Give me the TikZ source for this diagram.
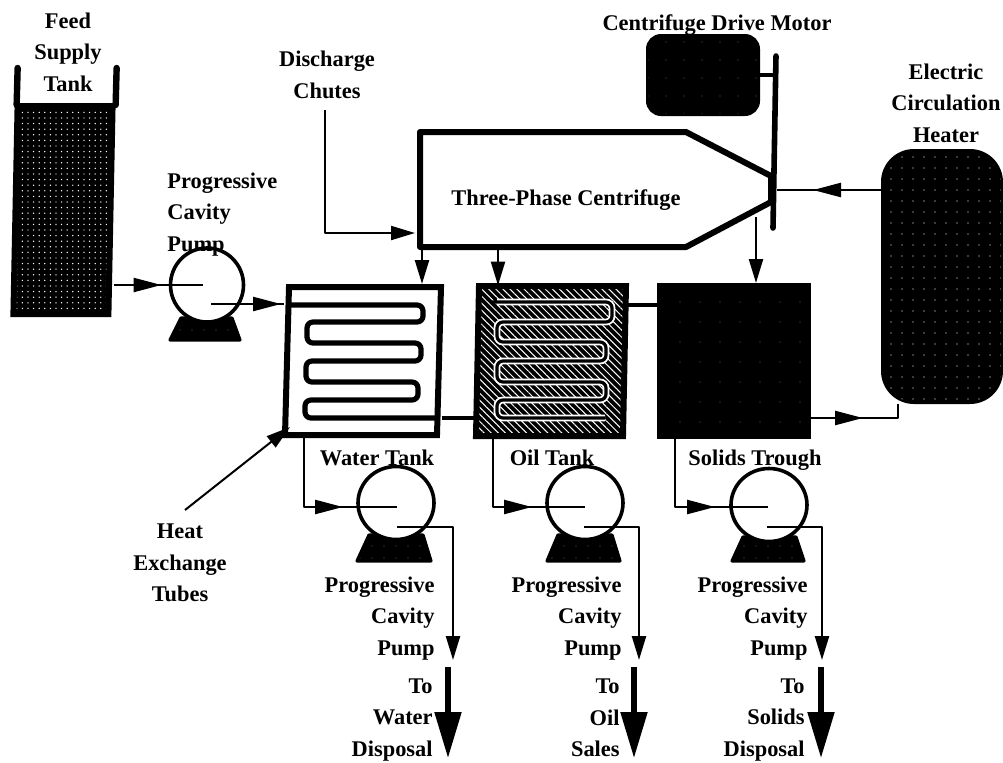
\documentclass[tikz,border=0pt]{standalone}
\usepackage{fontspec}
\setmainfont{Liberation Serif}
\usetikzlibrary{arrows.meta,patterns,patterns.meta,decorations.markings,shapes.geometric,calc}
\tikzset{
  lbl/.style={inner sep=0pt,font=\bfseries\fontsize{11.2}{15.7}\selectfont,text=black},
  pipe/.style={draw=black,line width=1.2pt,line join=round},
  midarrow/.style={postaction={decorate,decoration={markings,mark=at position #1 with {\arrow{Triangle[length=14pt,width=7pt]}}}}},
  endarrow/.style={-{Triangle[length=12pt,width=7pt]}},
  bigarrow/.style={line width=2.6pt,-{Triangle[length=23pt,width=13pt]},shorten >=0pt},
  tankbox/.style={rectangle,draw=black,line width=3pt,inner sep=0pt},
  whitetank/.style={tankbox,fill=white},
  speck/.style 2 args={preaction={fill=black},pattern={Dots[distance=#1,radius=#2]},pattern color=white},
  softbox/.style={rectangle,draw=black,line width=1pt,inner sep=0pt,rounded corners=#1},
  pumpbody/.style={ellipse,draw=black,line width=1.8pt,fill=white,inner sep=0pt},
  pumpbase/.style={speck={6pt}{0.16pt},draw=black,line width=1.6pt,line join=round},
  coilline/.style={draw=black,line width=2.6pt,rounded corners=3pt},
}
\begin{document}
\begin{tikzpicture}[x=0.5pt,y=-0.5pt]
\useasboundingbox (0,0) rectangle (1003,762);
% ---- bases of pumps
\path[pumpbase] (181,318) -- (232,318) -- (240,340) -- (170,340) -- cycle;
\path[pumpbase] (369,535) -- (423,535) -- (431,561) -- (357,561) -- cycle;
\path[pumpbase] (558,535) -- (612,535) -- (620,561) -- (547,561) -- cycle;
\path[pumpbase] (743,537) -- (796,537) -- (804,561) -- (732,561) -- cycle;
% ---- vessels
\node[tankbox,speck={2.8pt}{0.36pt},minimum width=47.5pt,minimum height=104pt,xslant=0.02,transform shape] (feed) at (63,210) {};
\coordinate (wallL) at ($(feed.north west)+(2,2)$);
\coordinate (wallR) at ($(feed.north east)+(0,2)$);
\draw[line width=3.2pt,line cap=round] (wallL) -- ++(1,-37);
\draw[line width=3.2pt,line cap=round] (wallR) -- ++(1,-37);
\node[whitetank,minimum width=76pt,minimum height=74pt,xslant=0.027,transform shape] (water) at (363,361) {};
\node[tankbox,preaction={fill=black},pattern={Lines[angle=-45,distance=2.5pt,line width=.5pt]},pattern color=white,minimum width=73.5pt,minimum height=75pt,xslant=0.02,transform shape] (oil) at (551,361) {};
\node[tankbox,speck={10pt}{0.18pt},minimum width=74pt,minimum height=75pt] (solids) at (734,361) {};
\node[softbox=16pt,speck={5.5pt}{0.28pt},minimum width=60pt,minimum height=126.5pt] (heater) at (942,276.5) {};
\node[softbox=7pt,speck={9pt}{0.18pt},minimum width=56pt,minimum height=40pt] (motor) at (703,75) {};
% ---- heat exchange coils
\draw[coilline] (288,305) -- (423,305) -- (423,322) -- (307,322) -- (307,343) -- (421,343) -- (421,361) -- (306,361) -- (306,382) -- (418,382) -- (418,400) -- (305,400) -- (305,418) -- (440,418);
\draw[draw=white,line width=3.4pt,rounded corners=3pt] (497,302) -- (612,302) -- (612,322) -- (497,322) -- (497,342) -- (606,342) -- (606,361) -- (497,361) -- (497,382) -- (606,382) -- (606,400) -- (497,400) -- (497,418) -- (605,418);
\draw[draw=black,line width=1.6pt,rounded corners=3pt] (490,302) -- (612,302) -- (612,322) -- (497,322) -- (497,342) -- (606,342) -- (606,361) -- (497,361) -- (497,382) -- (606,382) -- (606,400) -- (497,400) -- (497,418) -- (605,418);
% ---- centrifuge
\coordinate (cfTL) at (420,132);
\coordinate (cfTR) at (686,132);
\coordinate (cfNT) at (771,176);
\coordinate (cfNB) at (771,202);
\coordinate (cfBR) at (686,247);
\coordinate (cfBL) at (420,247);
\draw[line width=3pt,line join=round] (cfNT) -- (cfTR) -- (cfTL) -- (cfBL) -- (cfBR) -- (cfNB);
\coordinate (shaftT) at (776,56);
\coordinate (shaftB) at (773,228);
\draw[line width=2.8pt,line cap=round] (shaftT) -- (shaftB);
\draw[line width=3pt] (cfNT) -- (cfNB);
\coordinate (shaftM) at (775,75);
\draw[line width=1.8pt] (motor.east |- shaftM) -- (shaftM);
% ---- pumps
\node[pumpbody,minimum width=36.5pt,minimum height=37pt] (pumpA) at (207,285) {};
\node[pumpbody,minimum width=38pt,minimum height=36.5pt] (pumpB) at (396,503) {};
\node[pumpbody,minimum width=38pt,minimum height=36.5pt] (pumpC) at (585,503) {};
\node[pumpbody,minimum width=38pt,minimum height=36.5pt] (pumpD) at (769,505) {};
% ---- pipes
\coordinate (aIn) at (203,285);
\coordinate (aOut) at (211,304);
\draw[pipe,midarrow=24pt] (feed.east |- aIn) -- (aIn);
\draw[pipe,midarrow=35pt] (aOut) -- (water.west |- aOut);
\coordinate (link1) at (628,305);
\draw[pipe,line width=1.6pt] (oil.east |- link1) -- (solids.west |- link1);
\coordinate (link2) at (440,418);
\draw[pipe,line width=1.6pt] (water.east |- link2) -- (oil.west |- link2);
\coordinate (hOut) at (898,418);
\draw[pipe,midarrow=26pt] (solids.east |- hOut) -- (hOut) -- (hOut |- heater.south);
\coordinate (hIn) at (777,190);
\draw[pipe,midarrow=34pt] (heater.west |- hIn) -- (hIn);
\coordinate (cf1) at (422,248);
\coordinate (cf2) at (498,248);
\coordinate (cf3) at (756,217);
\draw[pipe,endarrow] (cf1) -- (cf1 |- water.north);
\draw[pipe,endarrow] (cf2) -- (cf2 |- oil.north);
\draw[pipe,endarrow] (cf3) -- (cf3 |- solids.north);
% chutes leader
\coordinate (chA) at (325,110);
\coordinate (chB) at (415,233);
\draw[pipe,line width=1pt,endarrow] (chA) |- (chB);
% heat exchange leader
\coordinate (hxA) at (185,510);
\coordinate (hxB) at (290,427);
\draw[pipe,line width=1pt,endarrow] (hxA) -- (hxB);
% discharge to pumps
\coordinate (bIn) at (397,507);
\coordinate (cIn) at (585,507);
\coordinate (dIn) at (768,507);
\coordinate (bT) at (304,437);
\coordinate (cT) at (493,437);
\coordinate (dT) at (675,437);
\draw[pipe,midarrow=54.5pt] (bT) |- (bIn);
\draw[pipe,midarrow=54.5pt] (cT) |- (cIn);
\draw[pipe,midarrow=55pt] (dT) |- (dIn);
\coordinate (bO) at (397,527);
\coordinate (cO) at (584,527);
\coordinate (dO) at (767,527);
\coordinate (bE) at (453,660);
\coordinate (cE) at (639,660);
\coordinate (dE) at (822,660);
\draw[pipe,endarrow] (bO) -| (bE);
\draw[pipe,endarrow] (cO) -| (cE);
\draw[pipe,endarrow] (dO) -| (dE);
\coordinate (bA) at (448,667);
\coordinate (cA) at (634,667);
\coordinate (dA) at (821,667);
\coordinate (bZ) at (448,758);
\coordinate (cZ) at (634,758);
\coordinate (dZ) at (821,758);
\draw[bigarrow] (bA) -- (bZ);
\draw[bigarrow] (cA) -- (cZ);
\draw[bigarrow] (dA) -- (dZ);
% ---- labels
\node[lbl,align=center] (tFeed) at (68,52) {Feed\\Supply\\Tank};
\node[lbl,align=left,anchor=west] (tPumpA) at (167,214.5) {Progressive\\Cavity\\Pump};
\node[lbl,align=center] (tChute) at (327,75) {Discharge\\Chutes};
\node[lbl] (tMotor) at (717,25) {Centrifuge Drive Motor};
\node[lbl,align=center] (tHeater) at (946,103) {Electric\\Circulation\\Heater};
\node[lbl] (tCf) at (566,200) {Three-Phase Centrifuge};
\node[lbl,align=center] (tHx) at (180,563) {Heat\\Exchange\\Tubes};
\node[lbl] (tWater) at (377,458) {Water Tank};
\node[lbl] (tOil) at (552,458) {Oil Tank};
\node[lbl] (tSolids) at (755,460) {Solids Trough};
\node[lbl,align=right,anchor=east] (tPumpB) at (435,618.5) {Progressive\\Cavity\\Pump};
\node[lbl,align=right,anchor=east] (tPumpC) at (622,618.5) {Progressive\\Cavity\\Pump};
\node[lbl,align=right,anchor=east] (tPumpD) at (808,618.5) {Progressive\\Cavity\\Pump};
\node[lbl,align=right,anchor=east] (tToB) at (433,720) {To\\Water\\Disposal};
\node[lbl,align=right,anchor=east] (tToC) at (620,718) {To\\Oil\\Sales};
\node[lbl,align=right,anchor=east] (tToD) at (805,720) {To\\Solids\\Disposal};
\end{tikzpicture}
\end{document}
